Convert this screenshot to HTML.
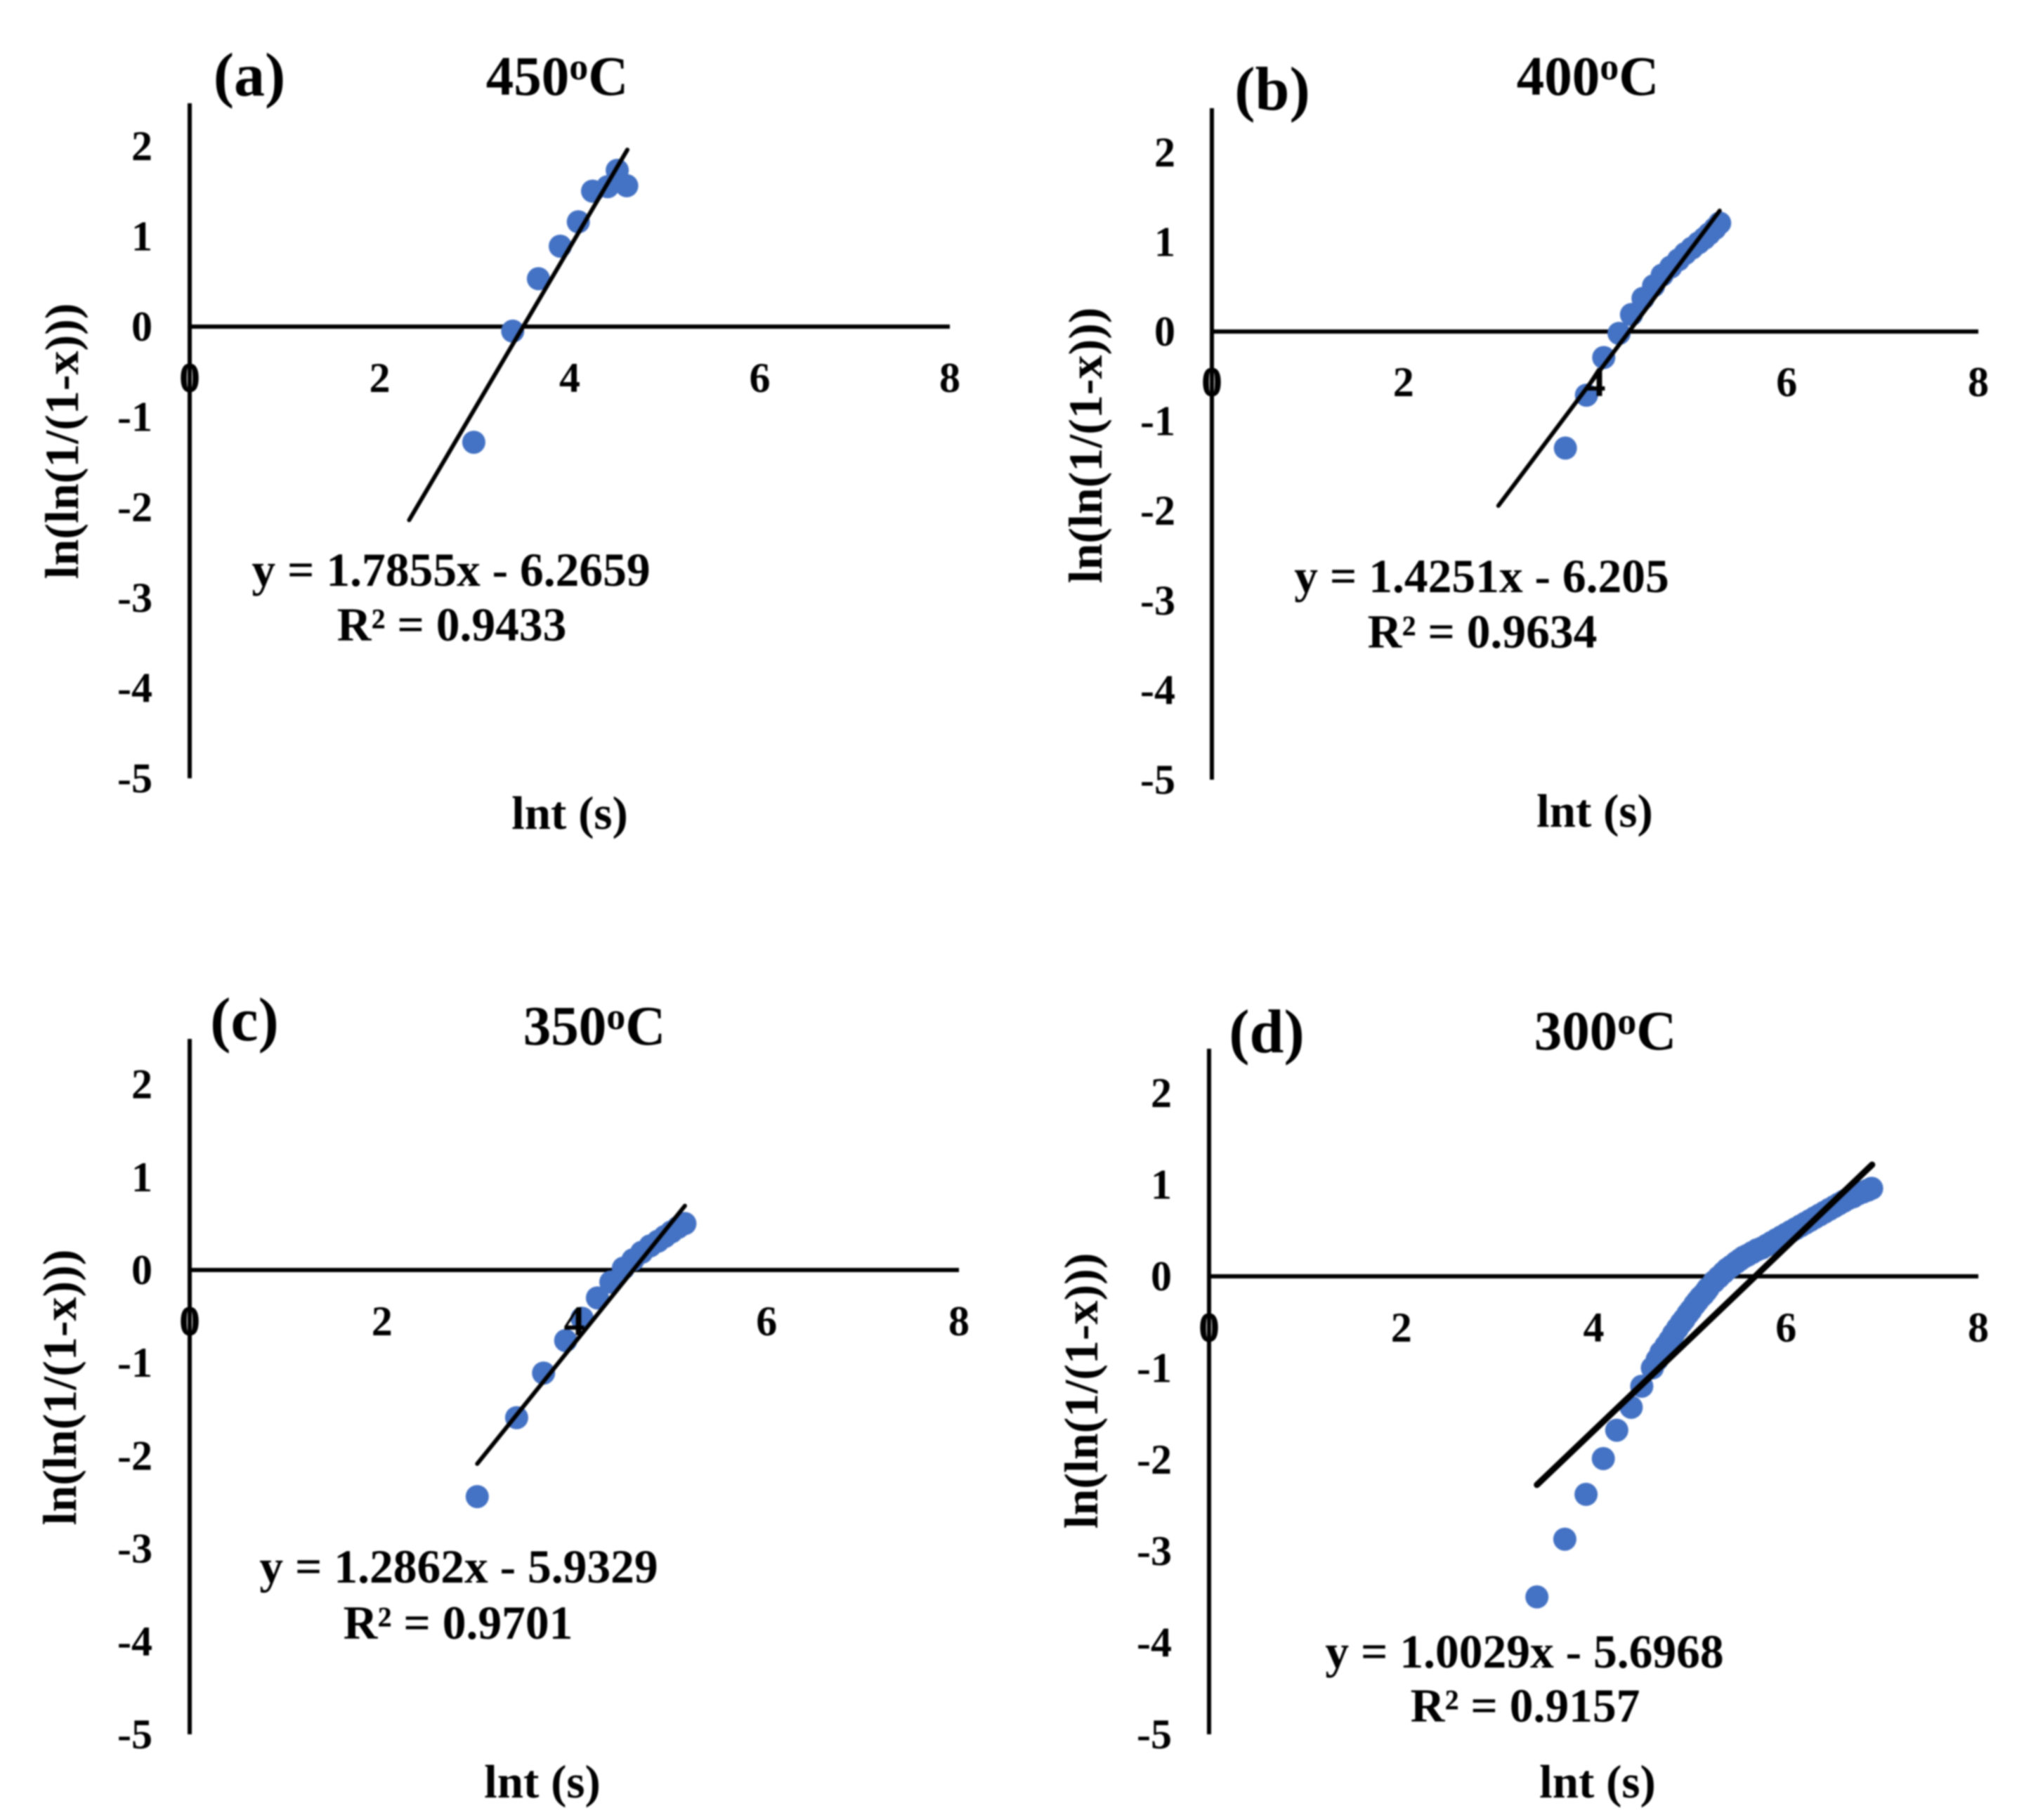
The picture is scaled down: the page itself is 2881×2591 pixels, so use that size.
<!DOCTYPE html>
<html lang="en">
<head>
<meta charset="utf-8">
<title>Avrami plots at four temperatures</title>
<style>
html,body{margin:0;padding:0;background:#fff;width:2881px;height:2591px;overflow:hidden}
svg{display:block;filter:blur(1.1px)}
text{font-family:"Liberation Serif",serif;font-weight:bold;fill:#000}
.tick{font-size:60px}
.x-title{font-size:67px;text-anchor:middle}
.y-title{font-size:68px;text-anchor:middle}
.eq{font-size:67.5px;text-anchor:middle}
.title{font-size:79px;text-anchor:middle}
.letter{font-size:88px;text-anchor:middle}
</style>
</head>
<body>
<svg id="figure" xmlns="http://www.w3.org/2000/svg" width="2881" height="2591" viewBox="0 0 2881 2591">
  <rect width="2881" height="2591" fill="#fff"/>

  <g id="panel-a"></g>
  <g id="panel-b"></g>
  <g id="panel-c"></g>
  <g id="panel-d"></g>

  <g>
    <text class="letter" x="355" y="136">(a)</text>
    <text class="title" x="793" y="135">450<tspan font-size="54" dy="-22">o</tspan><tspan dy="22">C</tspan></text>
    <text class="eq" x="642" y="834">y = 1.7855x - 6.2659</text>
    <text class="eq" x="643" y="912">R² = 0.9433</text>
    <text class="x-title" x="811" y="1180">lnt (s)</text>
    <text class="y-title" transform="translate(111 628) rotate(-90)">ln(ln(1/(1-x)))</text>
  </g>
  <g>
    <text class="letter" x="1811" y="156">(b)</text>
    <text class="title" x="2260" y="135">400<tspan font-size="54" dy="-22">o</tspan><tspan dy="22">C</tspan></text>
    <text class="eq" x="2109" y="843">y = 1.4251x - 6.205</text>
    <text class="eq" x="2110" y="922">R² = 0.9634</text>
    <text class="x-title" x="2270" y="1177">lnt (s)</text>
    <text class="y-title" transform="translate(1568 634) rotate(-90)">ln(ln(1/(1-x)))</text>
  </g>
  <g>
    <text class="letter" x="348" y="1481">(c)</text>
    <text class="title" x="846" y="1487">350<tspan font-size="54" dy="-22">o</tspan><tspan dy="22">C</tspan></text>
    <text class="eq" x="653" y="2253">y = 1.2862x - 5.9329</text>
    <text class="eq" x="652" y="2333">R² = 0.9701</text>
    <text class="x-title" x="772" y="2559">lnt (s)</text>
    <text class="y-title" transform="translate(108 1975) rotate(-90)">ln(ln(1/(1-x)))</text>
  </g>
  <g>
    <text class="letter" x="1803" y="1498">(d)</text>
    <text class="title" x="2285" y="1494">300<tspan font-size="54" dy="-22">o</tspan><tspan dy="22">C</tspan></text>
    <text class="eq" x="2170" y="2374">y = 1.0029x - 5.6968</text>
    <text class="eq" x="2171" y="2451">R² = 0.9157</text>
    <text class="x-title" x="2274" y="2559">lnt (s)</text>
    <text class="y-title" transform="translate(1562 1980) rotate(-90)">ln(ln(1/(1-x)))</text>
  </g>
</svg>

<script>
// Tick labels shared by all panels
const xTickValues = [0, 2, 4, 6, 8];
const yTickValues = [2, 1, 0, -1, -2, -3, -4, -5];

// Panel (a) 450 C
const lntA = [2.99, 3.40, 3.67, 3.90, 4.09, 4.24, 4.40, 4.50, 4.60];
const yA = [-1.28, -0.05, 0.53, 0.89, 1.16, 1.50, 1.55, 1.73, 1.56];
const slopeA = 1.7855;
const interceptA = -6.2659;
const fitRangeA = [2.31, 4.606];

// Panel (b) 400 C
const lntB = [3.69, 3.91, 4.09, 4.25, 4.38, 4.50, 4.61, 4.70, 4.79, 4.87, 4.94, 5.01, 5.08, 5.14, 5.19, 5.25, 5.30];
const yB = [-1.30, -0.71, -0.29, -0.02, 0.19, 0.37, 0.51, 0.63, 0.72, 0.80, 0.87, 0.93, 0.99, 1.04, 1.09, 1.15, 1.21];
const slopeB = 1.4251;
const interceptB = -6.205;
const fitRangeB = [2.99, 5.30];

// Panel (c) 350 C
const lntC = [2.99, 3.40, 3.68, 3.91, 4.08, 4.24, 4.38, 4.51, 4.61, 4.70, 4.79, 4.87, 4.94, 5.01, 5.08, 5.15];
const yC = [-2.44, -1.59, -1.11, -0.76, -0.52, -0.30, -0.13, 0.02, 0.11, 0.19, 0.26, 0.31, 0.36, 0.41, 0.46, 0.50];
const slopeC = 1.2862;
const interceptC = -5.9329;
const fitRangeC = [2.99, 5.15];

// Panel (d) 300 C
const lntD = [3.41, 3.70, 3.92, 4.10, 4.24, 4.39, 4.50, 4.61, 4.66, 4.70, 4.75, 4.79, 4.83, 4.87, 4.91, 4.94, 4.98, 5.01, 5.05, 5.08, 5.11, 5.14, 5.17, 5.19, 5.25, 5.30, 5.35, 5.39, 5.43, 5.48, 5.52, 5.56, 5.60, 5.65, 5.70, 5.75, 5.80, 5.85, 5.90, 5.95, 6.00, 6.05, 6.10, 6.15, 6.20, 6.25, 6.30, 6.35, 6.40, 6.45, 6.50, 6.55, 6.60, 6.65, 6.70, 6.75, 6.80, 6.85, 6.89];
const yD = [-3.50, -2.87, -2.38, -1.99, -1.68, -1.43, -1.20, -1.00, -0.91, -0.83, -0.76, -0.70, -0.63, -0.57, -0.51, -0.47, -0.41, -0.37, -0.31, -0.27, -0.23, -0.20, -0.16, -0.13, -0.06, -0.01, 0.04, 0.08, 0.11, 0.15, 0.18, 0.21, 0.23, 0.26, 0.29, 0.31, 0.34, 0.37, 0.40, 0.43, 0.46, 0.49, 0.52, 0.55, 0.58, 0.61, 0.64, 0.67, 0.70, 0.73, 0.76, 0.79, 0.82, 0.85, 0.87, 0.90, 0.92, 0.94, 0.96];
const slopeD = 1.0029;
const interceptD = -5.6968;
const fitRangeD = [3.41, 6.895];

const SVG_NS = 'http://www.w3.org/2000/svg';
const DOT_COLOR = '#4472C4';

function makeScaleX(frame) {
  return function (v) { return frame.left + v * (frame.right - frame.left) / 8; };
}
function makeScaleY(frame) {
  return function (v) { return frame.zero - v * (frame.bottom - frame.zero) / 5; };
}

function drawPanel(id, frame, lnt, values, slope, intercept, fitRange) {
  const g = document.getElementById(id);
  const sx = makeScaleX(frame);
  const sy = makeScaleY(frame);

  const yAxis = document.createElementNS(SVG_NS, 'line');
  
  
  yAxis.setAttribute('x1', frame.left);
  yAxis.setAttribute('x2', frame.left);
  yAxis.setAttribute('y1', frame.top);
  yAxis.setAttribute('y2', frame.bottom);
  yAxis.setAttribute('stroke', '#000');
  yAxis.setAttribute('stroke-width', 6);
  g.appendChild(yAxis);

  const xAxis = document.createElementNS(SVG_NS, 'line');
  
  
  xAxis.setAttribute('x1', frame.left);
  xAxis.setAttribute('x2', frame.right);
  xAxis.setAttribute('y1', frame.zero);
  xAxis.setAttribute('y2', frame.zero);
  xAxis.setAttribute('stroke', '#000');
  xAxis.setAttribute('stroke-width', 6);
  g.appendChild(xAxis);

  for (let i = 0; i < lnt.length; i++) {
    const dot = document.createElementNS(SVG_NS, 'circle');
    
    
    dot.setAttribute('cx', sx(lnt[i]).toFixed(1));
    dot.setAttribute('cy', sy(values[i]).toFixed(1));
    dot.setAttribute('r', 16.5);
    dot.setAttribute('fill', DOT_COLOR);
    g.appendChild(dot);
  }

  for (const v of xTickValues) {
    const t = document.createElementNS(SVG_NS, 'text');
    
    
    t.setAttribute('class', 'tick');
    t.setAttribute('x', sx(v));
    t.setAttribute('y', frame.xLabelBase);
    t.setAttribute('text-anchor', 'middle');
    t.textContent = String(v);
    g.appendChild(t);
  }

  for (const v of yTickValues) {
    const t = document.createElementNS(SVG_NS, 'text');
    
    
    t.setAttribute('class', 'tick');
    t.setAttribute('x', frame.yLabelEnd);
    t.setAttribute('y', sy(v) + 20);
    t.setAttribute('text-anchor', 'end');
    t.textContent = String(v);
    g.appendChild(t);
  }

  const fit = document.createElementNS(SVG_NS, 'line');
  
  
  fit.setAttribute('x1', sx(fitRange[0]).toFixed(1));
  fit.setAttribute('y1', sy(slope * fitRange[0] + intercept).toFixed(1));
  fit.setAttribute('x2', sx(fitRange[1]).toFixed(1));
  fit.setAttribute('y2', sy(slope * fitRange[1] + intercept).toFixed(1));
  fit.setAttribute('stroke', '#000');
  fit.setAttribute('stroke-width', frame.fitWidth);
  fit.setAttribute('stroke-linecap', 'round');
  g.appendChild(fit);
}

drawPanel('panel-a', {left: 270, right: 1352, zero: 465, bottom: 1108, top: 147, xLabelBase: 558, yLabelEnd: 217, fitWidth: 6}, lntA, yA, slopeA, interceptA, fitRangeA);
drawPanel('panel-b', {left: 1725, right: 2816, zero: 472, bottom: 1110, top: 154, xLabelBase: 564, yLabelEnd: 1673, fitWidth: 6}, lntB, yB, slopeB, interceptB, fitRangeB);
drawPanel('panel-c', {left: 270, right: 1365, zero: 1808, bottom: 2469, top: 1479, xLabelBase: 1901, yLabelEnd: 217, fitWidth: 6}, lntC, yC, slopeC, interceptC, fitRangeC);
drawPanel('panel-d', {left: 1721, right: 2816, zero: 1817, bottom: 2469, top: 1493, xLabelBase: 1910, yLabelEnd: 1668, fitWidth: 9}, lntD, yD, slopeD, interceptD, fitRangeD);
</script>
</body>
</html>
